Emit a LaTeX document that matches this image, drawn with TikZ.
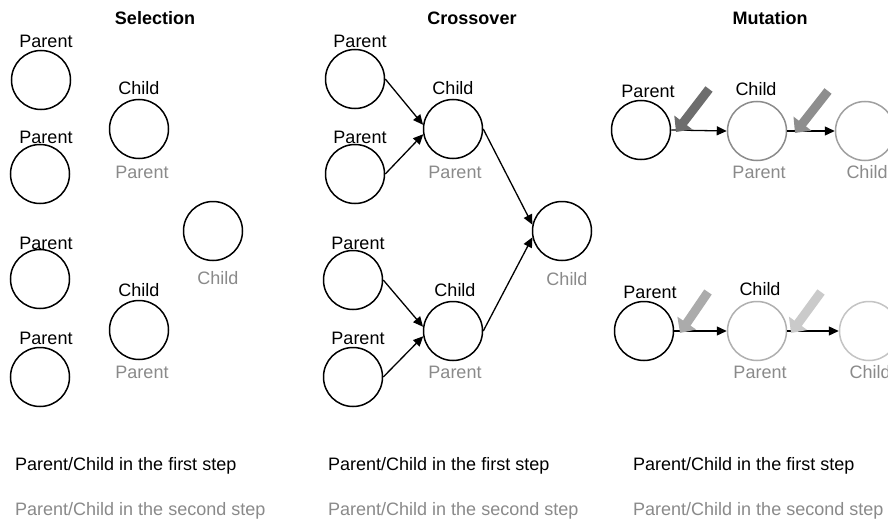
\documentclass[tikz,border=0pt]{standalone}
\usepackage{fontspec}
\setmainfont{Liberation Sans}
\usetikzlibrary{arrows.meta}
\definecolor{txtgray}{HTML}{8A8A8A}
\definecolor{ringA}{HTML}{8C8C8C}
\definecolor{ringB}{HTML}{A0A0A0}
\definecolor{ringC}{HTML}{B0B0B0}
\definecolor{ringD}{HTML}{C4C4C4}
\definecolor{blkA}{HTML}{6D6D6D}
\definecolor{blkB}{HTML}{8E8E8E}
\definecolor{blkC}{HTML}{ABABAB}
\definecolor{blkD}{HTML}{CACACA}
\tikzset{
  ind/.style={circle, draw=black, line width=1.5pt, minimum size=59pt, inner sep=0pt},
  lbl/.style={font=\fontsize{18}{21}\selectfont, inner sep=0pt, text=black},
  glbl/.style={lbl, text=txtgray},
  ttl/.style={font=\fontsize{18}{21}\selectfont\bfseries, inner sep=0pt},
  legend/.style={font=\fontsize{18}{21}\selectfont, inner sep=0pt, anchor=west},
  conn/.style={line width=1.3pt, -{Triangle[length=10pt,width=9pt]}},
  blk/.style={line width=9pt, -{Triangle[length=12pt,width=22pt]}},
}
\begin{document}
\begin{tikzpicture}[x=1pt,y=-1pt]
\clip (0,0) rectangle (888,524);
\fill[white] (0,0) rectangle (888,524);

% ---------- Selection ----------
\node[ttl] (tS) at (155,18) {Selection};
\node[ind] (sP1) at (41,80) {};
\node[ind] (sP2) at (40,174) {};
\node[ind] (sP3) at (40,279) {};
\node[ind] (sP4) at (40,377) {};
\node[lbl] (sP1l) at (46,41) {Parent};
\node[lbl] (sP2l) at (46,137) {Parent};
\node[lbl] (sP3l) at (46,243) {Parent};
\node[lbl] (sP4l) at (46,338) {Parent};
\node[ind] (sC1) at (139,129) {};
\node[lbl] (sC1l) at (139,88) {Child};
\node[glbl] (sC1g) at (142,172) {Parent};
\node[ind] (sC2) at (139,330) {};
\node[lbl] (sC2l) at (139,290) {Child};
\node[glbl] (sC2g) at (142,372) {Parent};
\node[ind] (sF) at (213,231) {};
\node[glbl] (sFg) at (218,278) {Child};

% ---------- Crossover ----------
\node[ttl] (tC) at (472,18) {Crossover};
\node[ind] (cP1) at (355,79) {};
\node[ind] (cP2) at (355,174) {};
\node[ind] (cP3) at (353,280) {};
\node[ind] (cP4) at (353,377) {};
\node[lbl] (cP1l) at (360,41) {Parent};
\node[lbl] (cP2l) at (360,137) {Parent};
\node[lbl] (cP3l) at (358,243) {Parent};
\node[lbl] (cP4l) at (358,338) {Parent};
\node[ind] (cC1) at (453,129) {};
\node[lbl] (cC1l) at (453,88) {Child};
\node[glbl] (cC1g) at (455,172) {Parent};
\node[ind] (cC2) at (453,331) {};
\node[lbl] (cC2l) at (455,290) {Child};
\node[glbl] (cC2g) at (455,372) {Parent};
\node[ind] (cF) at (562,231) {};
\node[glbl] (cFg) at (567,279) {Child};
\draw[conn] (cP1.east) -- (cC1.172);
\draw[conn] (cP2.east) -- (cC1.190);
\draw[conn] (cP3.east) -- (cC2.172);
\draw[conn] (cP4.east) -- (cC2.190);
\draw[conn] (cC1.east) -- (cF.168);
\draw[conn] (cC2.east) -- (cF.192);

% ---------- Mutation ----------
\node[ttl] (tM) at (770,18) {Mutation};
% top row
\node[ind] (mP) at (641,130) {};
\node[lbl] (mPl) at (648,91) {Parent};
\node[ind, draw=ringA] (mC) at (757,131) {};
\node[lbl] (mCl) at (756,89) {Child};
\node[glbl] (mCg) at (759,172) {Parent};
\node[ind, draw=ringB] (mG) at (865,131) {};
\node[glbl] (mGg) at (867,172) {Child};
\draw[conn] (mP.east) -- (mC.west);
\draw[conn] (mC.east) -- (mG.west);
\coordinate (bA1) at (709,89);
\coordinate (bA2) at (676,132);
\coordinate (bB1) at (828,91);
\coordinate (bB2) at (795,133);
\draw[blk, draw=blkA, fill=blkA] (bA1) -- (bA2);
\draw[blk, draw=blkB, fill=blkB] (bB1) -- (bB2);
% bottom row
\node[ind] (nP) at (644,331) {};
\node[lbl] (nPl) at (650,292) {Parent};
\node[ind, draw=ringC] (nC) at (757,331) {};
\node[lbl] (nCl) at (760,289) {Child};
\node[glbl] (nCg) at (760,372) {Parent};
\node[ind, draw=ringD] (nG) at (869,331) {};
\node[glbl] (nGg) at (870,372) {Child};
\draw[conn] (nP.east) -- (nC.west);
\draw[conn] (nC.east) -- (nG.west);
\coordinate (bC1) at (708,292);
\coordinate (bC2) at (680,333);
\coordinate (bD1) at (821,292);
\coordinate (bD2) at (791,333);
\draw[blk, draw=blkC, fill=blkC] (bC1) -- (bC2);
\draw[blk, draw=blkD, fill=blkD] (bD1) -- (bD2);

% ---------- Legends ----------
\node[legend] (l1a) at (15,466) {Parent/Child in the first step};
\node[legend, text=txtgray] (l1b) at (15,511) {Parent/Child in the second step};
\node[legend] (l2a) at (328,466) {Parent/Child in the first step};
\node[legend, text=txtgray] (l2b) at (328,511) {Parent/Child in the second step};
\node[legend] (l3a) at (633,466) {Parent/Child in the first step};
\node[legend, text=txtgray] (l3b) at (633,511) {Parent/Child in the second step};
\end{tikzpicture}
\end{document}
